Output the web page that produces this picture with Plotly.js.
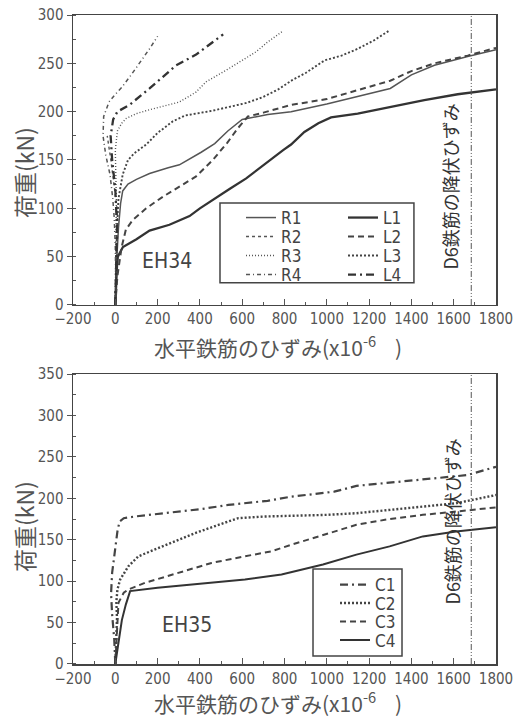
<!DOCTYPE html>
<html>
<head>
<meta charset="utf-8">
<script src="https://cdn.plot.ly/plotly-3.0.1.min.js"></script>
<style>html,body{margin:0;padding:0;background:#fff;}#chart{width:516px;height:717px;}</style>
</head>
<body>
<div id="chart"></div>
<script>
// ---------- EH34 (top) ----------
const r1x = [0,5,15,25,35,60,100,162,250,303,406,470,532,600,721,831,1000,1146,1300,1400,1509,1666,1800];
const r1y = [0,40,80,105,118,125,130,136,142,145,158,167,180,192,197,200,208,216,224,238,248,257,264];
const r2x = [0,5,10,12,8,0,-8,-15,-22,-30,-38];
const r2y = [0,30,60,80,100,115,128,140,152,163,175];
const r3x = [0,2,5,5,2,0,10,30,52,100,146,200,303,380,430,540,666,720,790];
const r3y = [0,40,80,110,140,160,180,188,193,198,201,204,210,220,231,245,262,272,283];
const r4x = [0,2,0,-5,-12,-25,-45,-58,-55,-30,0,30,75,130,165,200];
const r4y = [0,30,60,90,110,135,155,175,195,210,218,225,238,255,266,278];
const l1x = [0,3,8,12,36,100,162,256,300,351,400,461,540,619,700,792,831,894,960,1020,1146,1304,1461,1619,1800];
const l1y = [0,20,40,50,60,68,77,83,87,92,100,109,120,131,145,160,166,179,188,194,198,205,212,218,223];
const l2x = [0,10,30,50,83,146,225,303,382,461,530,580,627,700,831,1000,1146,1300,1400,1509,1666,1800];
const l2y = [0,30,60,78,88,100,112,122,133,150,168,183,195,199,207,213,222,232,242,250,258,266];
const l3x = [0,3,8,15,35,60,90,146,200,272,330,382,460,540,620,697,770,839,900,989,1070,1146,1225,1296];
const l3y = [0,40,80,110,135,150,157,166,178,190,196,198,201,205,209,215,223,233,240,253,258,265,274,284];
const l4x = [0,5,8,0,-15,-22,-10,10,67,162,288,382,461,510];
const l4y = [0,40,80,120,150,175,192,200,207,224,248,259,272,280];

// ---------- EH35 (bottom) ----------
const c1x = [0,-5,-15,-20,-15,0,10,20,40,91,220,406,534,720,833,1035,1140,1349,1500,1664,1800];
const c1y = [0,30,60,85,110,140,160,172,176,178,182,187,192,197,202,208,215,220,224,228,238];
const c2x = [0,3,8,5,10,23,62,109,220,377,534,582,700,849,1000,1140,1300,1454,1611,1800];
const c2y = [0,30,55,75,90,102,118,130,142,158,172,176,178,179,180,182,186,190,194,204];
const c3x = [0,5,10,15,40,62,141,298,455,613,738,833,982,1140,1297,1454,1611,1800];
const c3y = [0,30,55,74,86,90,98,110,122,130,136,144,156,168,175,180,184,189];
const c4x = [0,15,31,50,70,200,377,613,786,849,982,1140,1297,1454,1611,1800];
const c4y = [0,25,53,72,88,92,96,102,108,112,120,132,142,154,160,165];

const yieldStrain = 1683;
const topYRange = [0, 300];
const botYRange = [0, 350];

// legend placement (paper fractions)
const seriesTop = [
  {name:'R1', x:r1x, y:r1y, dash:'solid', w:1.5, c:'#555', lx:0.3972, ly:0.6872},
  {name:'R2', x:r2x, y:r2y, dash:'3px,3px', w:1.4, c:'#555', lx:0.3972, ly:0.6579},
  {name:'R3', x:r3x, y:r3y, dash:'1px,2px', w:1.4, c:'#555', lx:0.3972, ly:0.6287},
  {name:'R4', x:r4x, y:r4y, dash:'4px,3px,1px,3px', w:1.5, c:'#555', lx:0.3972, ly:0.5994},
  {name:'L1', x:l1x, y:l1y, dash:'solid', w:2.3, c:'#333', lx:0.6383, ly:0.6872},
  {name:'L2', x:l2x, y:l2y, dash:'6px,4px', w:2, c:'#444', lx:0.6383, ly:0.6579},
  {name:'L3', x:l3x, y:l3y, dash:'2px,2px', w:1.9, c:'#444', lx:0.6383, ly:0.6287},
  {name:'L4', x:l4x, y:l4y, dash:'8px,4px,2px,4px', w:2.3, c:'#333', lx:0.6383, ly:0.5994}
];
const seriesBot = [
  {name:'C1', x:c1x, y:c1y, dash:'8px,4px,2px,4px', w:2.2, c:'#444', lx:0.6194, ly:0.1217},
  {name:'C2', x:c2x, y:c2y, dash:'2px,2px', w:2.4, c:'#444', lx:0.6194, ly:0.0932},
  {name:'C3', x:c3x, y:c3y, dash:'6px,4px', w:2, c:'#444', lx:0.6194, ly:0.0647},
  {name:'C4', x:c4x, y:c4y, dash:'solid', w:2, c:'#333', lx:0.6194, ly:0.0362}
];

const NUM = '"Liberation Sans Narrow", "DejaVu Sans Condensed", sans-serif';
const JP = '"Liberation Sans Narrow", "Noto Sans CJK JP", sans-serif';

const traces = [];
const layout = {
  width:516, height:717,
  margin:{l:73, r:20, t:15, b:53},
  paper_bgcolor:'#fff', plot_bgcolor:'#fff',
  showlegend:true
};

let li = 1;
function addSeries(s, xa, ya){
  const key = li === 1 ? 'legend' : 'legend' + li;
  traces.push({type:'scatter', mode:'lines', name:s.name, x:s.x, y:s.y,
    xaxis:xa, yaxis:ya, legend:key, line:{color:s.c, width:s.w, dash:s.dash}});
  layout[key] = {x:s.lx, y:s.ly, xanchor:'left', yanchor:'middle',
    bgcolor:'rgba(0,0,0,0)', borderwidth:0, itemwidth:30,
    font:{family:NUM, size:17, color:'#444'}};
  li++;
}
seriesTop.forEach(s => addSeries(s, 'x', 'y'));
seriesBot.forEach(s => addSeries(s, 'x2', 'y2'));

traces.push({type:'scatter', mode:'lines', x:[yieldStrain,yieldStrain], y:topYRange, xaxis:'x', yaxis:'y',
  showlegend:false, line:{color:'#555', width:1, dash:'6px,2px,1px,2px,1px,2px'}});
traces.push({type:'scatter', mode:'lines', x:[yieldStrain,yieldStrain], y:botYRange, xaxis:'x2', yaxis:'y2',
  showlegend:false, line:{color:'#555', width:1, dash:'6px,2px,1px,2px,1px,2px'}});

function xAxis(anchor){
  return {
    anchor:anchor, range:[-200,1800], dtick:200, tick0:0,
    ticks:'inside', ticklen:6, tickwidth:1, tickcolor:'#555',
    minor:{dtick:100, ticks:'inside', ticklen:3, tickcolor:'#555'},
    showline:true, mirror:true, linecolor:'#444', linewidth:1.5,
    showgrid:false, zeroline:false,
    tickfont:{family:NUM, size:15, color:'#555'},
    automargin:false
  };
}
function yAxis(anchor, range, dom){
  return {
    anchor:anchor, domain:dom, range:range, dtick:50, tick0:0,
    ticks:'outside', ticklen:5, tickwidth:1, tickcolor:'#555',
    minor:{dtick:25, ticks:'inside', ticklen:3, tickcolor:'#555'},
    showline:true, mirror:true, linecolor:'#444', linewidth:1.5,
    showgrid:false, zeroline:false,
    tickfont:{family:NUM, size:15, color:'#555'},
    automargin:false
  };
}
layout.xaxis = xAxis('y');
layout.yaxis = yAxis('x', topYRange, [0.5532,1]);
layout.xaxis2 = xAxis('y2');
layout.yaxis2 = yAxis('x2', botYRange, [0,0.4468]);

const xTitle = '水平鉄筋のひずみ(x10<sup>-6</sup>\u00a0\u00a0\u00a0\u00a0)';
const yTitle = '荷重(kN)';
const titleFontX = {family:JP, size:21, color:'#555'};
const titleFontY = {family:JP, size:23, color:'#555'};

layout.shapes = [
  {type:'rect', xref:'paper', yref:'paper', x0:0.3475, x1:0.806, y0:0.5875, y1:0.7103,
   line:{color:'#444', width:1.5}, fillcolor:'rgba(0,0,0,0)', layer:'above'},
  {type:'rect', xref:'paper', yref:'paper', x0:0.5674, x1:0.7778, y0:0.0123, y1:0.1464,
   line:{color:'#444', width:1.5}, fillcolor:'rgba(0,0,0,0)', layer:'above'}
];
layout.annotations = [
  {xref:'paper', yref:'paper', x:0.4846, y:0.4900, text:xTitle, showarrow:false,
   xanchor:'center', yanchor:'middle', font:titleFontX},
  {xref:'paper', yref:'paper', x:0.4846, y:-0.0586, text:xTitle, showarrow:false,
   xanchor:'center', yanchor:'middle', font:titleFontX},
  {xref:'paper', yref:'paper', x:-0.1158, y:0.7565, text:yTitle, textangle:-90, showarrow:false,
   xanchor:'center', yanchor:'middle', font:titleFontY},
  {xref:'paper', yref:'paper', x:-0.1158, y:0.211, text:yTitle, textangle:-90, showarrow:false,
   xanchor:'center', yanchor:'middle', font:titleFontY},
  {xref:'x', yref:'y', x:244, y:46, text:'EH34', showarrow:false,
   font:{family:NUM, size:21, color:'#444'}},
  {xref:'x', yref:'y', x:1585, y:122, text:'D6鉄筋の降伏ひずみ', textangle:-90, showarrow:false,
   font:{family:JP, size:18, color:'#333'}},
  {xref:'x2', yref:'y2', x:338, y:47, text:'EH35', showarrow:false,
   font:{family:NUM, size:21, color:'#444'}},
  {xref:'x2', yref:'y2', x:1592, y:172, text:'D6鉄筋の降伏ひずみ', textangle:-90, showarrow:false,
   font:{family:JP, size:18, color:'#333'}}
];

Plotly.newPlot('chart', traces, layout, {displayModeBar:false, staticPlot:true});
</script>
</body>
</html>
